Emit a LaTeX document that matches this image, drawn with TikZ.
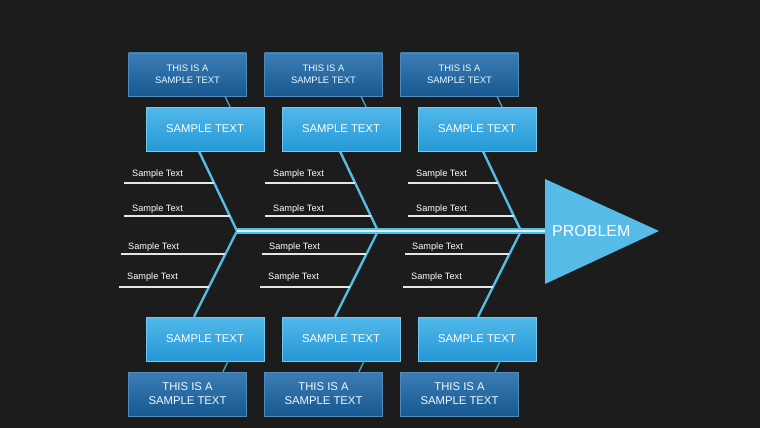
\documentclass[tikz,border=0pt]{standalone}
\usepackage{fontspec}
\setmainfont{Liberation Sans}
\usetikzlibrary{positioning}

\definecolor{bgdark}{HTML}{1C1C1C}
\definecolor{bonecol}{HTML}{56BBE6}
\definecolor{spinecore}{HTML}{D8F0FB}
\definecolor{capA}{HTML}{52B8EA}
\definecolor{capB}{HTML}{2598D6}
\definecolor{noteA}{HTML}{3B7DB4}
\definecolor{noteB}{HTML}{175890}

\tikzset{
  capbox/.style={draw=capA!80!white, line width=0.6pt, top color=capA, bottom color=capB,
    minimum width=118pt, minimum height=44pt, inner sep=0pt, text=white,
    font=\fontsize{11.3}{13}\selectfont},
  notebox/.style={draw=noteA!90!white, line width=0.6pt, top color=noteA, bottom color=noteB,
    minimum width=118pt, minimum height=43pt, inner sep=0pt, align=center, text=white!92!capA},
  bone/.style={draw=bonecol, line width=2.4pt},
  link/.style={draw=bonecol!85!black, line width=1.4pt},
  rib/.style={draw=white!90!black, line width=1.4pt},
  ribtext/.style={anchor=west, inner sep=0pt, text=white, font=\fontsize{9.2}{11}\selectfont}
}

\begin{document}
\begin{tikzpicture}[x=1pt, y=-1pt]
    \useasboundingbox (0,0) rectangle (760,428);
    \fill[bgdark] (0,0) rectangle (760,428);

    % ---------- head: problem triangle ----------
    \fill[bonecol] (545,179) -- (659,231) -- (545,284) -- cycle;
    \node[anchor=west, inner sep=0pt, text=white, font=\fontsize{16}{18}\selectfont] (prob) at (552,231) {PROBLEM};
    \coordinate (head) at (545,231);

    % ---------- three bone groups ----------
    \foreach \i/\j/\b in {1/237/205, 2/378/341, 3/521/477} {
      \coordinate (J\i) at (\j,231);

      % cause boxes above and below the spine
      \node[capbox] (tl\i) at (\b,129) {SAMPLE TEXT};
      \node[capbox] (bl\i) at (\b,339) {SAMPLE TEXT};
      \node[notebox, font=\fontsize{9.4}{12}\selectfont] (td\i) at (\b-17.5,74.5) {THIS IS A\\SAMPLE TEXT};
      \node[notebox, minimum height=44pt, font=\fontsize{11.3}{14}\selectfont] (bd\i) at (\b-17.5,394) {THIS IS A\\SAMPLE TEXT};

      % bones and short links
      \draw[bone] (J\i) -- ([xshift=\j-38-\b]tl\i.south);
      \draw[bone] (J\i) -- ([xshift=\j-43-\b]bl\i.north);
      \draw[link] ([xshift=37.5]td\i.south) -- ([xshift=25]tl\i.north);
      \draw[link] ([xshift=23]bl\i.south) -- ([xshift=35.5]bd\i.north);

      % sub-causes
      \foreach \k/\y/\l/\r/\t/\d in {1/183/113/23/105/9, 2/216/113/7/105/7, 3/254/116/12/109/7, 4/287/118/28/110/10} {
        \draw[rib] (\j-\l,\y) -- (\j-\r,\y);
        \node[ribtext] (s\i\k) at (\j-\t,\y-\d) {Sample Text};
      }
    }

    % spine
    \draw[draw=bonecol, double=spinecore, double distance=1.8pt, line width=1.7pt] (J1) -- (head);
  \end{tikzpicture}
\end{document}
